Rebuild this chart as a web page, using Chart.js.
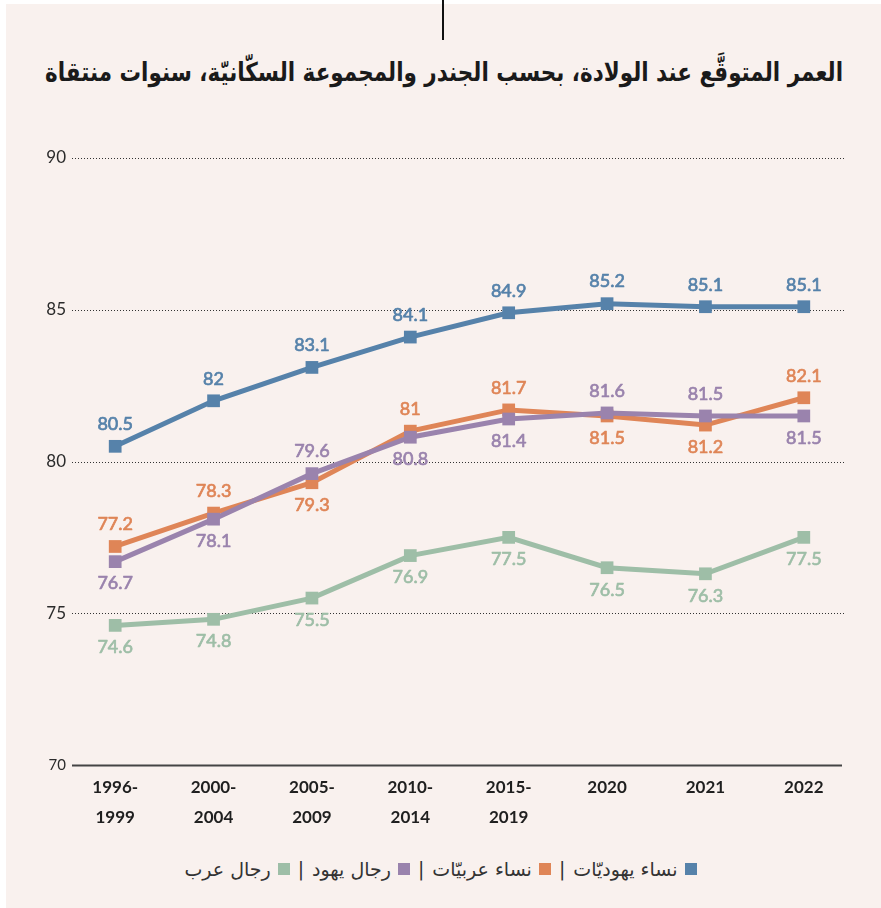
<!DOCTYPE html>
<html lang="ar">
<head>
<meta charset="utf-8">
<script src="https://cdn.jsdelivr.net/npm/chart.js@4/dist/chart.umd.min.js"></script>
<style>
  html, body { margin: 0; padding: 0; background: #fff; }
  body { width: 881px; height: 908px; position: relative; overflow: hidden; }
  .card { position: absolute; left: 6px; top: 4px; width: 875px; height: 904px; background: #f9f1ee; }
  .tick { position: absolute; left: 442px; top: 0; width: 2px; height: 40px; background: #111; }
  .title {
    position: absolute; top: 57px; right: 38px;
    direction: rtl; text-align: right;
    font-family: "DejaVu Sans", sans-serif; font-weight: bold; font-size: 26px;
    color: #1a1a1a; white-space: nowrap;
    transform-origin: right center;
  }
  #chart { position: absolute; left: 0; top: 120px; }
  .legend {
    position: absolute; top: 858px; left: 0; width: 881px;
    text-align: center; direction: rtl;
    font-family: "DejaVu Sans", sans-serif; font-size: 19px; color: #333;
  }
  .legend .sw { display: inline-block; width: 12px; height: 12px; margin-left: 7px; vertical-align: 1px; }
  .legend .sep { margin: 0 8px; }
</style>
</head>
<body>
<div class="card"></div>
<div class="tick"></div>
<div class="title" id="title">العمر المتوقَّع عند الولادة، بحسب الجندر والمجموعة السكّانيّة، سنوات منتقاة</div>
<canvas id="chart" width="881" height="720"></canvas>
<div class="legend" id="legend"></div>

<script>
  // 데이터
  const years = [['1996-', '1999'], ['2000-', '2004'], ['2005-', '2009'], ['2010-', '2014'], ['2015-', '2019'], '2020', '2021', '2022'];
  const jewishWomen = [80.5, 82, 83.1, 84.1, 84.9, 85.2, 85.1, 85.1];
  const arabWomen   = [77.2, 78.3, 79.3, 81, 81.7, 81.5, 81.2, 82.1];
  const jewishMen   = [76.7, 78.1, 79.6, 80.8, 81.4, 81.6, 81.5, 81.5];
  const arabMen     = [74.6, 74.8, 75.5, 76.9, 77.5, 76.5, 76.3, 77.5];
  const yTicks = [70, 75, 80, 85, 90];
  const seriesNames = ['نساء يهوديّات', 'نساء عربيّات', 'رجال يهود', 'رجال عرب'];

  const COLORS = ['#5682aa', '#df8557', '#9a83ad', '#9ebea7'];
  // 라벨 위치: 1 = 위, -1 = 아래
  const labelSide = [
    [1, 1, 1, 1, 1, 1, 1, 1],
    [1, 1, -1, 1, 1, -1, -1, 1],
    [-1, -1, 1, -1, -1, 1, 1, -1],
    [-1, -1, -1, -1, -1, -1, -1, -1]
  ];

  // 제목 폭을 참조 이미지(약 798px)에 맞춤
  const titleEl = document.getElementById('title');
  titleEl.style.transform = `scaleX(${798 / titleEl.scrollWidth})`;

  const gridPlugin = {
    id: 'dottedGrid',
    beforeDatasetsDraw(chart) {
      const { ctx } = chart;
      const y = chart.scales.y;
      ctx.save();
      yTicks.forEach(v => {
        const py = Math.round(y.getPixelForValue(v)) + 0.5;
        ctx.beginPath();
        if (v === 70) {
          ctx.setLineDash([]);
          ctx.lineWidth = 2;
          ctx.strokeStyle = '#444';
          ctx.moveTo(72, py);
          ctx.lineTo(842, py);
        } else {
          ctx.setLineDash([1, 2]);
          ctx.lineWidth = 1;
          ctx.strokeStyle = '#333';
          ctx.moveTo(72, py);
          ctx.lineTo(845, py);
        }
        ctx.stroke();
      });
      ctx.restore();
    }
  };

  const labelPlugin = {
    id: 'pointLabels',
    afterDatasetsDraw(chart) {
      const { ctx } = chart;
      ctx.save();
      ctx.font = '18px Lato, "DejaVu Sans", sans-serif';
      ctx.textAlign = 'center';
      ctx.textBaseline = 'middle';
      ctx.lineWidth = 0.7;          // 중간 굵기 흉내
      ctx.lineJoin = 'round';
      chart.data.datasets.forEach((ds, di) => {
        const meta = chart.getDatasetMeta(di);
        ctx.fillStyle = ds.borderColor;
        ctx.strokeStyle = ds.borderColor;
        meta.data.forEach((pt, i) => {
          const side = labelSide[di][i];
          const ty = pt.y - side * 22;
          ctx.fillText(String(ds.data[i]), pt.x, ty);
          ctx.strokeText(String(ds.data[i]), pt.x, ty);
        });
      });
      ctx.restore();
    }
  };

  const mk = (label, data, color, order) => ({
    label, data, order,
    borderColor: color,
    backgroundColor: color,
    borderWidth: 5,
    pointStyle: 'rect',
    pointRadius: 9,
    pointBorderWidth: 0,
    tension: 0
  });

  new Chart(document.getElementById('chart'), {
    type: 'line',
    data: {
      labels: years,
      datasets: [
        mk(seriesNames[0], jewishWomen, COLORS[0], 0),
        mk(seriesNames[1], arabWomen, COLORS[1], 2),
        mk(seriesNames[2], jewishMen, COLORS[2], 1),
        mk(seriesNames[3], arabMen, COLORS[3], 3)
      ]
    },
    options: {
      responsive: false,
      animation: false,
      devicePixelRatio: 1,
      layout: { padding: { top: 38, right: 28, left: 0, bottom: 0 } },
      plugins: { legend: { display: false }, tooltip: { enabled: false } },
      scales: {
        x: {
          offset: true,
          grid: { display: false, drawTicks: false },
          border: { display: false },
          afterFit: s => { s.height = 75; },
          ticks: {
            padding: 8,
            color: '#1f1f1f',
            font: { family: 'Lato', weight: 'bold', size: 17, lineHeight: 1.75 },
            maxRotation: 0
          }
        },
        y: {
          min: 70, max: 90,
          grid: { display: false, drawTicks: false },
          border: { display: false },
          afterFit: s => { s.width = 66; },
          afterBuildTicks: s => { s.ticks = yTicks.map(v => ({ value: v })); },
          ticks: {
            padding: 0,
            color: '#2b2b2b',
            font: c => ({ family: 'Lato', size: c.tick && c.tick.value === 70 ? 15 : 17 })
          }
        }
      }
    },
    plugins: [gridPlugin, labelPlugin]
  });

  // 범례 (RTL)
  const legend = document.getElementById('legend');
  legend.innerHTML = seriesNames.map((n, i) =>
    `<span><span class="sw" style="background:${COLORS[i]}"></span>${n}</span>`
  ).join('<span class="sep">|</span>');
</script>
</body>
</html>
